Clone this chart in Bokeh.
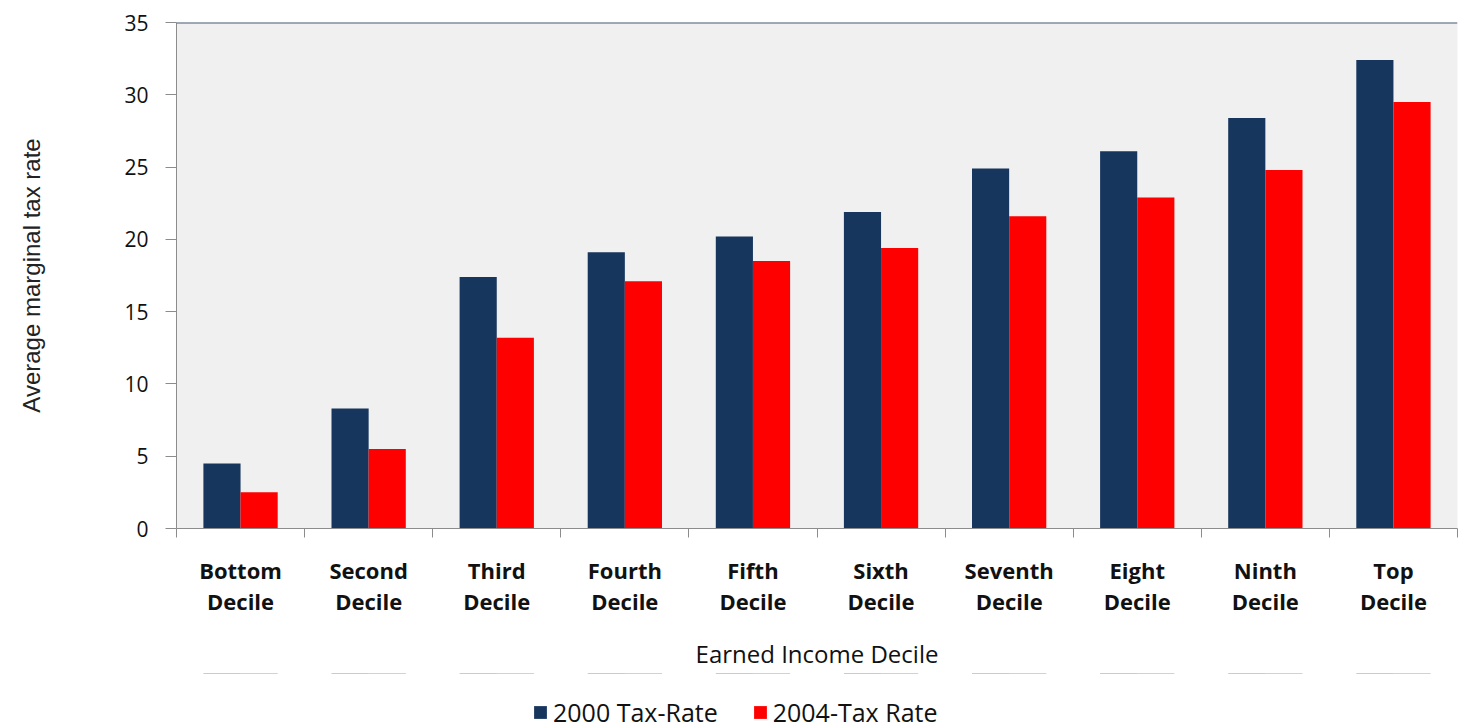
import numpy as np
from bokeh.plotting import figure
from bokeh.layouts import column
from bokeh.models import (ColumnDataSource, FixedTicker, LinearAxis, Range1d, Span,
                          Legend, LegendItem)
from bokeh.embed import file_html
from bokeh.resources import INLINE

categories = ["Bottom\nDecile", "Second\nDecile", "Third\nDecile", "Fourth\nDecile", "Fifth\nDecile",
              "Sixth\nDecile", "Seventh\nDecile", "Eight\nDecile", "Ninth\nDecile", "Top\nDecile"]
rate_2000 = [4.5, 8.3, 17.4, 19.1, 20.2, 21.9, 24.9, 26.1, 28.4, 32.4]
rate_2004 = [2.5, 5.5, 13.2, 17.1, 18.5, 19.4, 21.6, 22.9, 24.8, 29.5]
series_names = ["2000 Tax-Rate", "2004-Tax Rate"]
y_ticks = [0, 5, 10, 15, 20, 25, 30, 35]

NAVY = "#17365D"
RED = "#FF0000"
FONT = "Open Sans"

centers = np.arange(len(categories)) + 0.5
bar_w = 0.29
src = ColumnDataSource(dict(x1=centers - bar_w / 2, x2=centers + bar_w / 2,
                            a=rate_2000, b=rate_2004))

p = figure(frame_width=1281, frame_height=506, output_backend="svg", toolbar_location=None,
           x_range=Range1d(0, len(categories)), y_range=Range1d(0, 35),
           x_axis_type=None, background_fill_color="#F0F0F0", border_fill_color="white",
           min_border_left=176, min_border_top=22, min_border_right=2, min_border_bottom=0)
p.outline_line_color = None
p.xgrid.visible = False
p.ygrid.visible = False

r1 = p.vbar(x="x1", top="a", width=bar_w, bottom=0, source=src, fill_color=NAVY, line_color=None)
r2 = p.vbar(x="x2", top="b", width=bar_w, bottom=0, source=src, fill_color=RED, line_color=None)

# y axis
ya = p.yaxis[0]
ya.ticker = FixedTicker(ticks=y_ticks)
ya.axis_label = "Average marginal tax rate"
ya.axis_label_text_font = "Liberation Sans"
ya.axis_label_text_font_style = "normal"
ya.axis_label_text_font_size = "24px"
ya.axis_label_text_color = "#222222"
ya.axis_label_standoff = 76
ya.major_label_text_font = FONT
ya.major_label_text_font_size = "21px"
ya.major_label_text_color = "#111111"
ya.major_label_standoff = 17
ya.major_tick_out = 11
ya.major_tick_in = 0
ya.minor_tick_out = 0
ya.minor_tick_in = 0
ya.axis_line_color = "#8C8C8C"
ya.major_tick_line_color = "#8C8C8C"

# x axis
xa = LinearAxis(ticker=FixedTicker(ticks=list(centers), minor_ticks=list(range(len(categories) + 1))))
xa.major_label_overrides = {float(c): lab for c, lab in zip(centers, categories)}
xa.major_label_text_font = FONT
xa.major_label_text_font_style = "bold"
xa.major_label_text_font_size = "22px"
xa.major_label_text_line_height = 1.05
xa.major_label_text_color = "#111111"
xa.major_label_standoff = 17
xa.major_tick_out = 0
xa.major_tick_in = 0
xa.minor_tick_out = 9
xa.minor_tick_in = 0
xa.axis_line_color = "#8C8C8C"
xa.minor_tick_line_color = "#8C8C8C"
xa.axis_label = "Earned Income Decile"
xa.axis_label_text_font = FONT
xa.axis_label_text_font_style = "normal"
xa.axis_label_text_font_size = "24px"
xa.axis_label_text_color = "#111111"
xa.axis_label_standoff = 18
p.add_layout(xa, "below")

p.add_layout(Span(location=35, dimension="width", line_color="#4A5A75", line_width=2))

# legend strip (its key glyphs reuse the same data, kept outside the strip's visible range)
p2 = figure(width=1459, height=60, output_backend="svg", toolbar_location=None,
            x_range=Range1d(0, len(categories)), y_range=Range1d(-2, -1),
            x_axis_type=None, y_axis_type=None,
            min_border=0, border_fill_color="white", background_fill_color="white")
p2.outline_line_color = None
p2.xgrid.visible = False
p2.ygrid.visible = False
k1 = p2.vbar(x="x1", top="a", width=bar_w, bottom=0, source=src, fill_color=NAVY, line_color=None)
k2 = p2.vbar(x="x2", top="b", width=bar_w, bottom=0, source=src, fill_color=RED, line_color=None)
legend = Legend(items=[LegendItem(label=series_names[0], renderers=[k1]),
                       LegendItem(label=series_names[1], renderers=[k2])],
                orientation="horizontal", location=(356, 4),
                label_text_font=FONT, label_text_font_size="25px", label_text_color="#111111",
                glyph_width=16, glyph_height=16, spacing=34, padding=0, margin=0,
                border_line_color=None, background_fill_alpha=0)
p2.add_layout(legend)

layout = column(p, p2, spacing=0)
open("out.html", "w").write(file_html(layout, INLINE))
